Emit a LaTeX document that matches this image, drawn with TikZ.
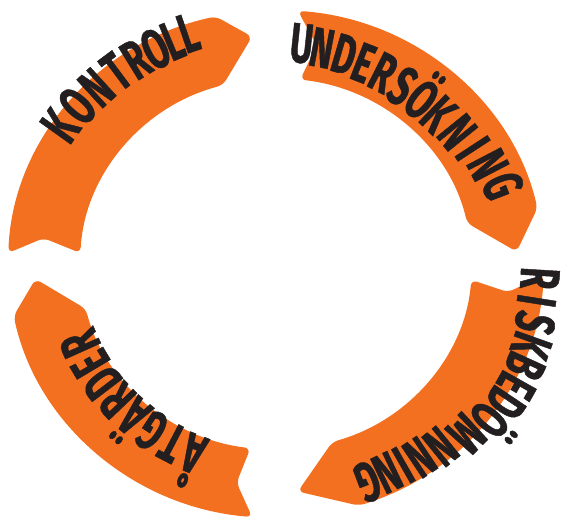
\documentclass[tikz,border=0pt]{standalone}
\usepackage{fontspec}
\newfontfamily\hand{Fira Sans}[FakeStretch=0.62, BoldFeatures={FakeBold=0.8}]
\definecolor{bandcol}{HTML}{F37021}
\definecolor{ink}{HTML}{231F20}
\begin{document}
\begin{tikzpicture}[x=1pt,y=1pt,
  bandfill/.style={fill=bandcol, draw=none, rounded corners=6pt},
  letter/.style={font=\hand\bfseries\fontsize{56}{56}\selectfont, text=ink,
    inner sep=0pt, text height=38pt, text depth=0pt}]
\useasboundingbox (0,0) rectangle (561,520);
% bands (ellipse-shaped ring, clockwise arrows)
\begin{scope}[shift={(276,256)}, yscale=0.948]
\foreach \pa/\pb/\pc/\pd/\pe/\pf in {
  177.5/176.6/173.3/103/105.7/95.7,
  85.3/82.9/80/12.7/12.7/3.1,
  -2.5/-4.9/-7.3/-72/-73.3/-84.8,
  264.9/262.5/260.3/191.8/194/183.75}
  \fill[bandfill] (\pc:234) -- (\pa:268) arc[start angle=\pa, end angle=\pd, radius=268]
    -- (\pf:241) -- (\pe:196) arc[start angle=\pe, end angle=\pb, radius=196] -- cycle;
\end{scope}
% letters
\newcommand\placeword[2]{%
  \foreach \ch/\ang/\rad [count=\i] in {#2} {
    \pgfmathsetmacro\px{276+\rad*cos(\ang)}
    \pgfmathsetmacro\py{256+0.948*\rad*sin(\ang)}
    \pgfmathsetmacro\rt{atan2(sin(\ang)/0.948,cos(\ang))-90}
    \node[letter, rotate=\rt] (#1\i) at (\px,\py) {\ch};
  }}
\placeword{kon}{K/146/260, O/140/259, N/134/258, T/128.2/258, R/123/257,
  O/118/256.5, L/113.7/257, L/109.8/258.7}
\placeword{und}{U/83.7/234, N/78.6/232, D/72.8/231, E/67.6/229, R/62/228,
  S/56/226, Ö/50/226, K/44.2/226, N/37.5/228, I/31.8/231, N/26.3/236, G/20/241}
\placeword{ris}{R/-3.3/264, I/-8.5/263, S/-13.5/266, K/-18.6/269, B/-23.4/271,
  E/-28.1/272, D/-32.6/272, Ö/-37.6/269, M/-43.2/261, N/-49.4/253,
  N/-54.8/249, I/-59/247, N/-63.2/246, G/-68.2/247}
\placeword{atg}{Å/247.5/216, T/241.2/215, G/234.8/215, Ä/228.5/214,
  R/222.2/214, D/215.8/214, E/209.5/213, R/203.1/213}
\end{tikzpicture}
\end{document}
